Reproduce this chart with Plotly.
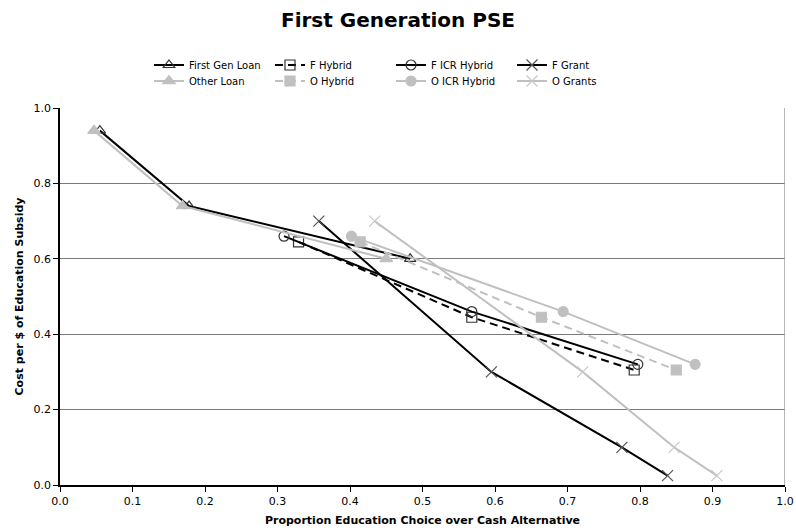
import plotly.graph_objects as go

# Proportion choosing education (x) and cost per $ of subsidy (y) for each program
f_loan_x = [0.055, 0.178, 0.483]
f_loan_y = [0.94, 0.74, 0.60]
f_hybrid_x = [0.329, 0.568, 0.792]
f_hybrid_y = [0.645, 0.445, 0.305]
f_icr_x = [0.309, 0.568, 0.797]
f_icr_y = [0.66, 0.46, 0.32]
f_grant_x = [0.357, 0.595, 0.775, 0.838]
f_grant_y = [0.70, 0.30, 0.10, 0.025]

o_loan_x = [0.047, 0.169, 0.450]
o_loan_y = [0.94, 0.74, 0.60]
o_hybrid_x = [0.414, 0.664, 0.850]
o_hybrid_y = [0.645, 0.445, 0.305]
o_icr_x = [0.402, 0.694, 0.876]
o_icr_y = [0.66, 0.46, 0.32]
o_grant_x = [0.434, 0.721, 0.847, 0.906]
o_grant_y = [0.70, 0.30, 0.10, 0.025]

x_ticks = [i / 10 for i in range(11)]
y_ticks = [i / 5 for i in range(6)]

BLACK = "#000000"
GREY = "#c0c0c0"

# first-generation series go in the top legend row, others in the second row
series = [
    ("First Gen Loan", f_loan_x, f_loan_y, BLACK, "solid", "triangle-up-open", "#333333", 10, "legend"),
    ("F Hybrid", f_hybrid_x, f_hybrid_y, BLACK, "8px,5px", "square-open", "#333333", 10, "legend"),
    ("F ICR Hybrid", f_icr_x, f_icr_y, BLACK, "solid", "circle-open", "#333333", 10, "legend"),
    ("F Grant", f_grant_x, f_grant_y, BLACK, "solid", "x-thin-open", "#555555", 11, "legend"),
    ("Other Loan", o_loan_x, o_loan_y, GREY, "solid", "triangle-up", GREY, 11, "legend2"),
    ("O Hybrid", o_hybrid_x, o_hybrid_y, GREY, "8px,5px", "square", GREY, 10, "legend2"),
    ("O ICR Hybrid", o_icr_x, o_icr_y, GREY, "solid", "circle", GREY, 10, "legend2"),
    ("O Grants", o_grant_x, o_grant_y, GREY, "solid", "x-thin-open", "#c8c8c8", 11, "legend2"),
]

fig = go.Figure()
for name, xs, ys, color, dash, symbol, mcolor, msize, leg in series:
    fig.add_trace(go.Scatter(
        x=xs, y=ys, name=name, mode="lines+markers", legend=leg,
        line=dict(color=color, width=2, dash=dash),
        marker=dict(symbol=symbol, size=msize, color=mcolor,
                    line=dict(color=mcolor, width=1.2)),
    ))

# right-hand frame of the plot area
fig.add_shape(type="line", xref="x", yref="y", x0=1, x1=1, y0=0, y1=1,
              line=dict(color="#a0a0a0", width=1.5))

legend_style = dict(orientation="h", xref="container", yref="container",
                    xanchor="left", yanchor="middle", entrywidth=76,
                    font=dict(family="DejaVu Sans", size=10),
                    bgcolor="rgba(0,0,0,0)", itemwidth=30, traceorder="normal")

fig.update_layout(
    width=796, height=531,
    margin=dict(l=60, r=11, t=108, b=46),
    paper_bgcolor="white", plot_bgcolor="white",
    font=dict(family="DejaVu Sans", size=11, color="#000000"),
    title=dict(text="<b>First Generation PSE</b>", x=0.5, xanchor="center",
               y=1 - 20 / 531, yanchor="middle",
               font=dict(family="DejaVu Sans", size=20, color="#000000")),
    showlegend=True,
    legend=dict(legend_style, x=149 / 796, y=1 - 65 / 531),
    legend2=dict(legend_style, x=149 / 796, y=1 - 81 / 531),
    xaxis=dict(range=[0, 1], tickvals=x_ticks, tickformat=".1f",
               showgrid=False, zeroline=False, showline=True, automargin=False,
               linecolor="#000000", linewidth=1.5, ticks="outside",
               ticklen=5, tickcolor="#000000",
               title=dict(text="<b>Proportion Education Choice over Cash Alternative</b>",
                          font=dict(family="DejaVu Sans", size=11), standoff=9)),
    yaxis=dict(range=[0, 1], tickvals=y_ticks, tickformat=".1f",
               showgrid=True, gridcolor="#7a7a7a", gridwidth=1, automargin=False,
               zeroline=False, showline=True, linecolor="#000000",
               linewidth=1.5, ticks="outside", ticklen=5, tickcolor="#000000",
               title=dict(text="<b>Cost per $ of Education Subsidy</b>",
                          font=dict(family="DejaVu Sans", size=11), standoff=8)),
)

fig.write_html("out.html")
